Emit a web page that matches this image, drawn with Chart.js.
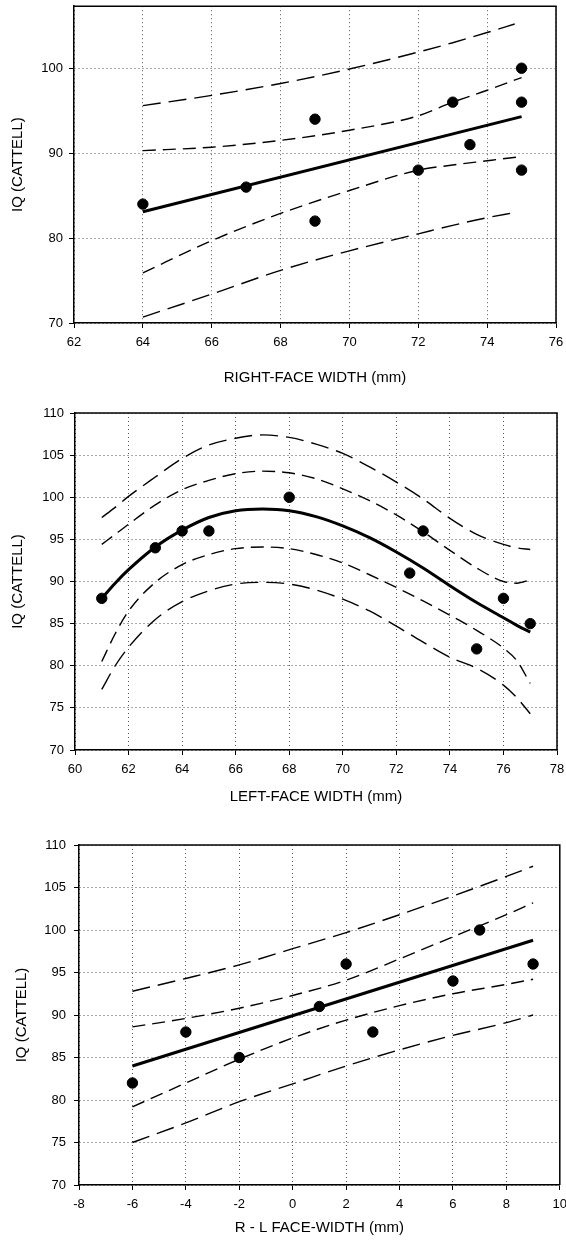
<!DOCTYPE html>
<html>
<head>
<meta charset="utf-8">
<script src="https://cdn.jsdelivr.net/npm/chart.js@4.4.1/dist/chart.umd.min.js"></script>
<style>
  html, body { margin: 0; padding: 0; background: #fff; }
  canvas { position: absolute; left: 0; }
</style>
</head>
<body>
<canvas id="c1" width="566" height="400" style="top:0px"></canvas>
<canvas id="c2" width="566" height="412" style="top:400px"></canvas>
<canvas id="c3" width="566" height="436" style="top:812px"></canvas>
<script>
// chart 1 : right-face width
const rightX  = [64, 67, 69, 69, 72, 73, 73.5, 75, 75, 75];
const rightIQ = [84, 86, 94, 82, 88, 96, 91, 100, 96, 88];
const rightFitX = [64, 75];
const rightFit  = [83.1, 94.3];
const rightCiX  = [64, 66, 68, 70, 72, 73, 74, 75];
const rightCiHi = [90.3, 90.7, 91.5, 92.7, 94.4, 96.0, 97.4, 98.9];
const rightCiLo = [75.9, 79.7, 82.9, 85.6, 88.0, 88.6, 89.1, 89.6];
const rightPiX  = [64, 66, 68, 70, 72, 73, 74, 74.8];
const rightPiHi = [95.6, 96.8, 98.2, 99.9, 101.9, 103.0, 104.2, 105.2];
const rightPiLo = [70.7, 73.4, 76.2, 78.5, 80.5, 81.5, 82.4, 83.0];

// chart 2 : left-face width
const leftX  = [61, 63, 64, 65, 68, 72.5, 73, 75, 76, 77];
const leftIQ = [88, 94, 96, 96, 100, 91, 96, 82, 88, 85];
const leftCurveX = [61, 61.5, 62, 63, 64, 65, 66, 67, 68, 69, 70, 71, 72, 73, 74, 75, 76, 76.5, 77];
const leftFit  = [88.0, 89.8, 91.4, 94.1, 96.1, 97.6, 98.4, 98.6, 98.4, 97.7, 96.6, 95.2, 93.5, 91.6, 89.5, 87.5, 85.7, 84.8, 84.0];
const leftCiHi = [94.4, 95.6, 96.8, 99.1, 100.9, 102.0, 102.8, 103.1, 102.9, 102.2, 101.0, 99.6, 97.9, 95.9, 93.7, 91.6, 90.0, 89.8, 90.2];
const leftCiLo = [80.5, 83.8, 86.5, 89.9, 92.0, 93.2, 93.9, 94.1, 93.9, 93.2, 92.2, 90.8, 89.3, 87.7, 86.0, 84.2, 82.1, 80.6, 77.9];
const leftPiHi = [97.6, 98.8, 100.1, 102.4, 104.6, 106.2, 107.0, 107.4, 107.1, 106.3, 105.2, 103.6, 101.8, 99.8, 97.5, 95.6, 94.4, 94.0, 93.8];
const leftPiLo = [77.2, 80.0, 82.2, 85.5, 87.6, 88.9, 89.7, 89.9, 89.7, 89.0, 87.9, 86.5, 84.7, 82.8, 81.0, 79.7, 77.7, 76.2, 74.3];

// chart 3 : R - L difference
const diffX  = [-6, -4, -2, 1, 2, 3, 6, 7, 9];
const diffIQ = [82, 88, 85, 91, 96, 88, 94, 100, 96];
const diffFitX = [-6, 9];
const diffFit  = [84.0, 98.8];
const diffBandX = [-6, -4, -2, 0, 2, 4, 6, 8, 9];
const diffCiHi = [88.6, 89.6, 90.8, 92.3, 94.1, 96.6, 99.2, 101.8, 103.2];
const diffCiLo = [79.2, 82.0, 84.8, 87.3, 89.4, 91.1, 92.5, 93.6, 94.2];
const diffPiHi = [92.8, 94.3, 95.9, 97.8, 99.7, 101.8, 104.0, 106.3, 107.5];
const diffPiLo = [75.0, 77.3, 79.8, 81.9, 84.0, 85.9, 87.6, 89.1, 90.0];

const xTitles = ['RIGHT-FACE WIDTH (mm)', 'LEFT-FACE WIDTH (mm)', 'R - L FACE-WIDTH (mm)'];
const yTitle = 'IQ (CATTELL)';

Chart.defaults.font.family = "'Liberation Sans', Arial, sans-serif";
Chart.defaults.color = '#000';

function pts(xs, ys) {
  return xs.map((x, i) => ({ x: x, y: ys[i] }));
}

function dots(xs, ys) {
  return { data: pts(xs, ys), pointRadius: 5.2, pointHoverRadius: 5.2,
           backgroundColor: '#000', borderColor: '#000', showLine: false };
}
function solid(xs, ys, smooth) {
  return { data: pts(xs, ys), showLine: true, pointRadius: 0, borderColor: '#000',
           borderWidth: 3, cubicInterpolationMode: smooth ? 'monotone' : 'default' };
}
function dashed(xs, ys, dash) {
  return { data: pts(xs, ys), showLine: true, pointRadius: 0, borderColor: '#000',
           borderWidth: 1.4, borderDash: dash, cubicInterpolationMode: 'monotone' };
}

// top and right edge of the plot box
const boxPlugin = {
  id: 'box',
  afterDraw(chart) {
    const a = chart.chartArea, ctx = chart.ctx;
    ctx.save();
    ctx.strokeStyle = '#000';
    ctx.lineWidth = 1.5;
    ctx.beginPath();
    ctx.moveTo(a.left, a.top);
    ctx.lineTo(a.right, a.top);
    ctx.lineTo(a.right, a.bottom);
    ctx.stroke();
    ctx.restore();
  }
};

function makeChart(id, o) {
  new Chart(document.getElementById(id), {
    type: 'scatter',
    data: { datasets: o.datasets },
    plugins: [boxPlugin],
    options: {
      responsive: false,
      animation: false,
      devicePixelRatio: 1,
      layout: { padding: { top: o.top, right: o.right, left: 0, bottom: 0 } },
      plugins: { legend: { display: false }, tooltip: { enabled: false } },
      scales: {
        x: {
          type: 'linear', min: o.xmin, max: o.xmax,
          afterFit: s => { s.height = o.xh; s.paddingLeft = 0; s.paddingRight = 0; },
          ticks: { stepSize: 2, padding: 7, font: { size: 13 }, maxRotation: 0 },
          grid: { color: '#555', lineWidth: 1, tickColor: '#000', tickLength: 5 },
          border: { color: '#000', width: 1.5, dash: [1, 3] },
          title: { display: true, text: o.xtitle, font: { size: 15 },
                   padding: { top: 0, bottom: o.tpad } }
        },
        y: {
          type: 'linear', min: o.ymin, max: o.ymax,
          afterFit: s => { s.width = o.yw; s.paddingTop = 0; s.paddingBottom = 0; },
          ticks: { stepSize: o.ystep, includeBounds: false, padding: o.ypad, font: { size: 13 } },
          grid: { color: '#555', lineWidth: 1, tickColor: '#000', tickLength: 5 },
          border: { color: '#000', width: 1.5, dash: [1, 3] },
          title: { display: true, text: yTitle, font: { size: 15 },
                   padding: { top: o.ytpad, bottom: 0 } }
        }
      }
    }
  });
}

makeChart('c1', {
  top: 6, right: 10, yw: 74, xh: 77, tpad: 13, ypad: 6, ytpad: 9,
  xmin: 62, xmax: 76, ymin: 70, ymax: 107.3, ystep: 10, xtitle: xTitles[0],
  datasets: [
    dots(rightX, rightIQ),
    solid(rightFitX, rightFit, false),
    dashed(rightCiX, rightCiHi, [13, 7]),
    dashed(rightCiX, rightCiLo, [13, 7]),
    dashed(rightPiX, rightPiHi, [18, 8]),
    dashed(rightPiX, rightPiLo, [18, 8])
  ]
});

makeChart('c2', {
  top: 13, right: 9, yw: 75, xh: 62, tpad: 6, ypad: 6, ytpad: 9,
  xmin: 60, xmax: 78, ymin: 70, ymax: 110, ystep: 5, xtitle: xTitles[1],
  datasets: [
    dots(leftX, leftIQ),
    solid(leftCurveX, leftFit, true),
    dashed(leftCurveX, leftCiHi, [13, 7]),
    dashed(leftCurveX, leftCiLo, [13, 7]),
    dashed(leftCurveX, leftPiHi, [18, 8]),
    dashed(leftCurveX, leftPiLo, [18, 8])
  ]
});

makeChart('c3', {
  top: 33, right: 6, yw: 79, xh: 63, tpad: 11, ypad: 8, ytpad: 13,
  xmin: -8, xmax: 10, ymin: 70, ymax: 110, ystep: 5, xtitle: xTitles[2],
  datasets: [
    dots(diffX, diffIQ),
    solid(diffFitX, diffFit, false),
    dashed(diffBandX, diffCiHi, [13, 7]),
    dashed(diffBandX, diffCiLo, [13, 7]),
    dashed(diffBandX, diffPiHi, [18, 8]),
    dashed(diffBandX, diffPiLo, [18, 8])
  ]
});
</script>
</body>
</html>
